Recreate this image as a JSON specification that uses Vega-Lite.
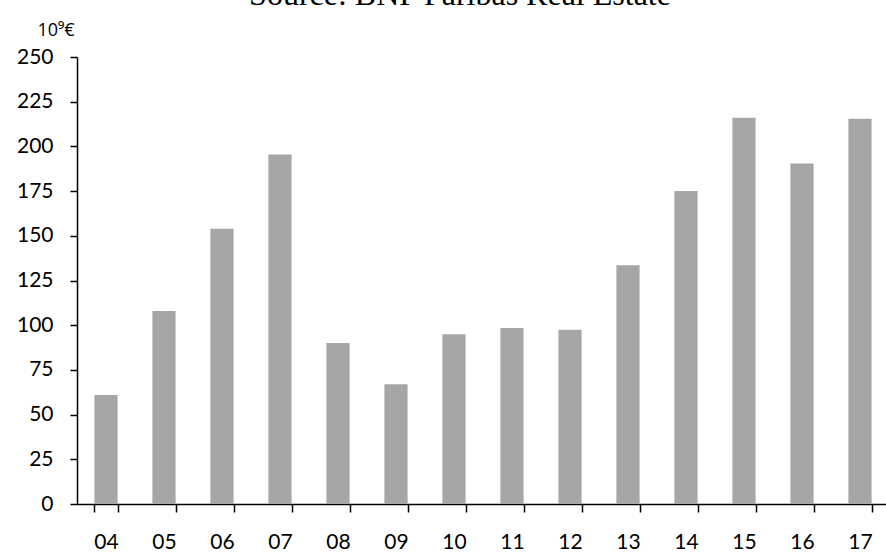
{
  "$schema": "https://vega.github.io/schema/vega-lite/v6.json",
  "autosize": "none",
  "width": 812,
  "height": 447,
  "padding": {"left": 77, "top": 57, "right": 0, "bottom": 49},
  "background": "white",
  "title": {
    "text": "Source: BNP Paribas Real Estate",
    "font": "Liberation Serif",
    "fontSize": 32,
    "fontWeight": "normal",
    "color": "black",
    "anchor": "middle",
    "dx": -23,
    "offset": 9
  },
  "data": {
    "values": [
      {"year": "04", "value": 61},
      {"year": "05", "value": 108},
      {"year": "06", "value": 154},
      {"year": "07", "value": 195.5},
      {"year": "08", "value": 90},
      {"year": "09", "value": 67},
      {"year": "10", "value": 95},
      {"year": "11", "value": 98.5},
      {"year": "12", "value": 97.5},
      {"year": "13", "value": 133.5},
      {"year": "14", "value": 175},
      {"year": "15", "value": 216},
      {"year": "16", "value": 190.5},
      {"year": "17", "value": 215.5}
    ]
  },
  "mark": {"type": "bar", "color": "#a6a6a6"},
  "encoding": {
    "x": {
      "field": "year",
      "type": "ordinal",
      "sort": null,
      "scale": {"paddingInner": 0.6, "paddingOuter": 0.3},
      "axis": {
        "title": null,
        "labelAngle": 0,
        "labelFont": "Lato",
        "labelFontSize": 21,
        "labelColor": "black",
        "labelPadding": 19,
        "tickBand": "extent",
        "tickSize": 8,
        "tickColor": "black",
        "tickWidth": 1.5,
        "domainColor": "black",
        "domainWidth": 1.5,
        "grid": false
      }
    },
    "y": {
      "field": "value",
      "type": "quantitative",
      "scale": {"domain": [0, 250], "nice": false},
      "axis": {
        "title": "10⁹€",
        "titleFont": "Open Sans",
        "titleFontSize": 18,
        "titleFontWeight": "normal",
        "titleColor": "black",
        "titleAngle": 0,
        "titleAlign": "left",
        "titleBaseline": "middle",
        "titleX": -40,
        "titleY": -27,
        "values": [0, 25, 50, 75, 100, 125, 150, 175, 200, 225, 250],
        "labelFont": "Lato",
        "labelFontSize": 21,
        "labelColor": "black",
        "labelPadding": 17,
        "tickSize": 7,
        "tickColor": "black",
        "tickWidth": 1.5,
        "domainColor": "black",
        "domainWidth": 1.5,
        "grid": false
      }
    }
  },
  "config": {"view": {"stroke": null}}
}
